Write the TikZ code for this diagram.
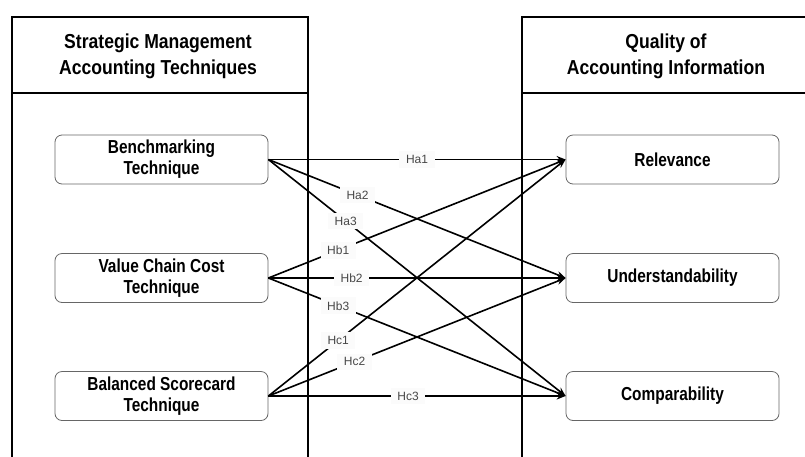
\documentclass[tikz,border=0pt]{standalone}
\usepackage{fontspec}
\setmainfont{Liberation Sans}
\newfontfamily\hdrfont{Liberation Sans}[FakeStretch=0.87]
\newfontfamily\itemfont{Liberation Sans}[FakeStretch=0.82]
\usetikzlibrary{arrows.meta}
\begin{document}
\begin{tikzpicture}[x=1pt,y=-1pt,
  frame/.style={line width=2pt},
  item/.style={draw=black!60, line width=0.8pt, rounded corners=7pt, minimum width=213pt, minimum height=49pt, align=center, font=\itemfont\fontsize{18.8}{21}\selectfont\bfseries, inner sep=0pt},
  hdr/.style={align=center, font=\hdrfont\fontsize{20.2}{25.5}\selectfont\bfseries},
  link/.style={line width=1.6pt, -{Stealth[length=9pt,width=7pt]}},
  hyp/.style={fill=black!1.5, text=black!72, font=\fontsize{12}{14}\selectfont, inner xsep=6.5pt, inner ysep=4pt}
]
\useasboundingbox (0,0) rectangle (805,456);
\clip (0,0) rectangle (805,456);
% frames
\draw[frame] (12,470) -- (12,16.5) -- (308,16.5) -- (308,470);
\draw[frame] (12,93) -- (308,93);
\draw[frame] (521.5,470) -- (521.5,16.5) -- (820,16.5);
\draw[frame] (521.5,93) -- (820,93);
\node[hdr] (hl) at (158,56.5) {Strategic Management\\Accounting Techniques};
\node[hdr] (hr) at (666,56.5) {Quality of\\Accounting Information};
% nodes
\node[item] (a) at (161.5,159.5) {Benchmarking\\Technique};
\node[item] (b) at (161.5,278) {Value Chain Cost\\Technique};
\node[item] (c) at (161.5,396) {Balanced Scorecard\\Technique};
\node[item] (r) at (672.5,159.5) {Relevance};
\node[item] (u) at (672.5,278) {Understandability};
\node[item] (k) at (672.5,396) {Comparability};
% links
\draw[link] (a.east) -- (r.west);
\draw[link] (a.east) -- (u.west);
\draw[link] (a.east) -- (k.west);
\draw[link] (b.east) -- (r.west);
\draw[link] (b.east) -- (u.west);
\draw[link] (b.east) -- (k.west);
\draw[link] (c.east) -- (r.west);
\draw[link] (c.east) -- (u.west);
\draw[link] (c.east) -- (k.west);
% labels
\path (a.east) -- (r.west) node[hyp,pos=0.5] (ha1) {Ha1};
\path (a.east) -- (u.west) node[hyp,pos=0.30] (ha2) {Ha2};
\path (a.east) -- (k.west) node[hyp,pos=0.26] (ha3) {Ha3};
\path (b.east) -- (r.west) node[hyp,pos=0.235] (hb1) {Hb1};
\path (b.east) -- (u.west) node[hyp,pos=0.28] (hb2) {Hb2};
\path (b.east) -- (k.west) node[hyp,pos=0.235] (hb3) {Hb3};
\path (c.east) -- (r.west) node[hyp,pos=0.235] (hc1) {Hc1};
\path (c.east) -- (u.west) node[hyp,pos=0.29] (hc2) {Hc2};
\path (c.east) -- (k.west) node[hyp,pos=0.47] (hc3) {Hc3};
\end{tikzpicture}
\end{document}
